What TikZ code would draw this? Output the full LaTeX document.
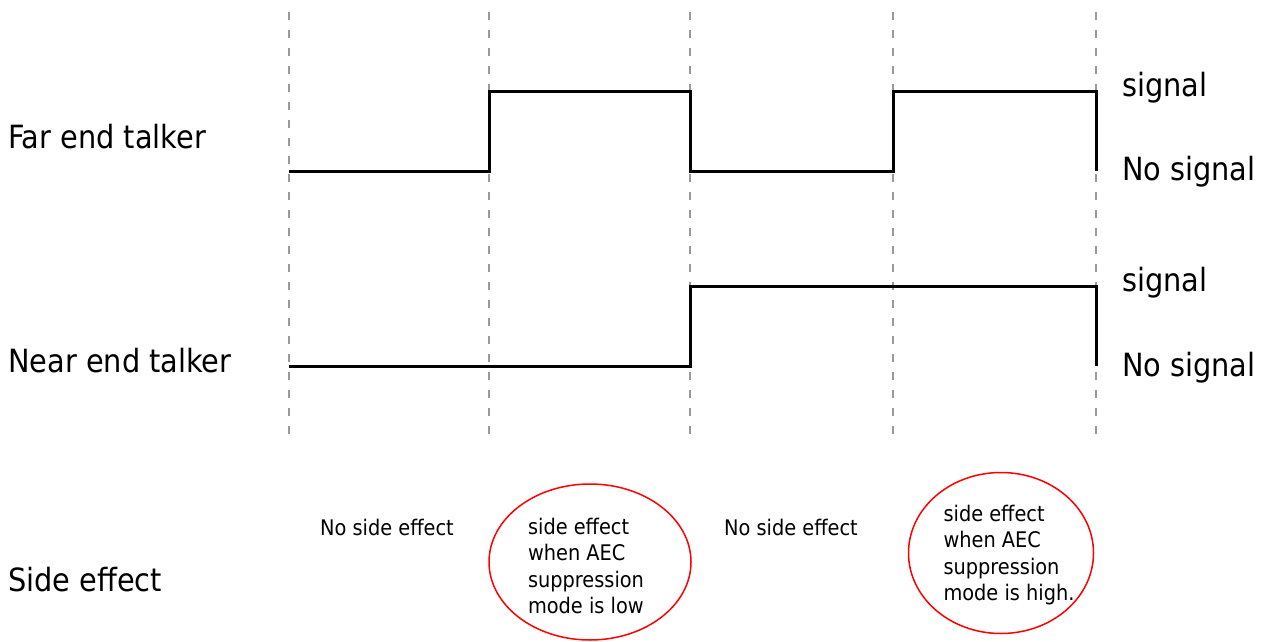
\documentclass[tikz,border=0pt]{standalone}
\usepackage{fontspec}
\usetikzlibrary{shapes.geometric}
\setmainfont{DejaVu Sans Condensed}
\begin{document}
\begin{tikzpicture}[x=1pt,y=-1pt,
  grid/.style={draw=gray!80, line width=2pt, dash pattern=on 8pt off 10pt},
  wave/.style={draw=black, line width=3pt, line join=miter},
  biglabel/.style={anchor=west, inner sep=0pt, font=\fontsize{32}{38}\selectfont},
  smalllabel/.style={inner sep=0pt, align=left, font=\fontsize{21.5}{26.5}\selectfont},
  ring/.style={draw=red, line width=1.5pt, ellipse, inner sep=0pt}
]
\useasboundingbox (0,0) rectangle (1263,642);

% time grid
\foreach \i/\x in {1/289,2/489,3/690,4/893,5/1096}{
  \coordinate (t\i) at (\x,12);
  \coordinate (b\i) at (\x,438);
  \draw[grid] (t\i) -- (b\i);
}

% signal levels
\coordinate (fa) at (289,171);
\coordinate (na) at (289,366);

% far end talker
\draw[wave] (fa) -- (489,171) -- (489,91) -- (690,91) -- (690,171)
  -- (893,171) -- (893,91) -- (1096,91) -- (1096,171);
% near end talker
\draw[wave] (na) -- (690,366) -- (690,286) -- (1096,286) -- (1096,366);

% row labels
\node[biglabel] (far)  at (8,137) {Far end talker};
\node[biglabel] (near) at (8,361) {Near end talker};
\node[biglabel] (side) at (8,580) {Side effect};

% level labels
\node[biglabel] (fs)  at (1122,88)  {signal};
\node[biglabel] (fns) at (1122,172) {No signal};
\node[biglabel] (ns)  at (1122,283) {signal};
\node[biglabel] (nns) at (1122,368) {No signal};

% side effects per interval
\node[smalllabel] (se1) at (387,527) {No side effect};
\node[smalllabel] (se3) at (791,527) {No side effect};

\node[ring, minimum width=202pt, minimum height=156pt] (r2) at (590,562) {};
\node[smalllabel] (se2) at (586,566) {side effect\\when AEC\\suppression\\mode is low};

\node[ring, minimum width=185pt, minimum height=161pt] (r4) at (1001,553) {};
\node[smalllabel] (se4) at (1009,555) {side effect\\when AEC\\suppression\\mode is high.};
\end{tikzpicture}
\end{document}
